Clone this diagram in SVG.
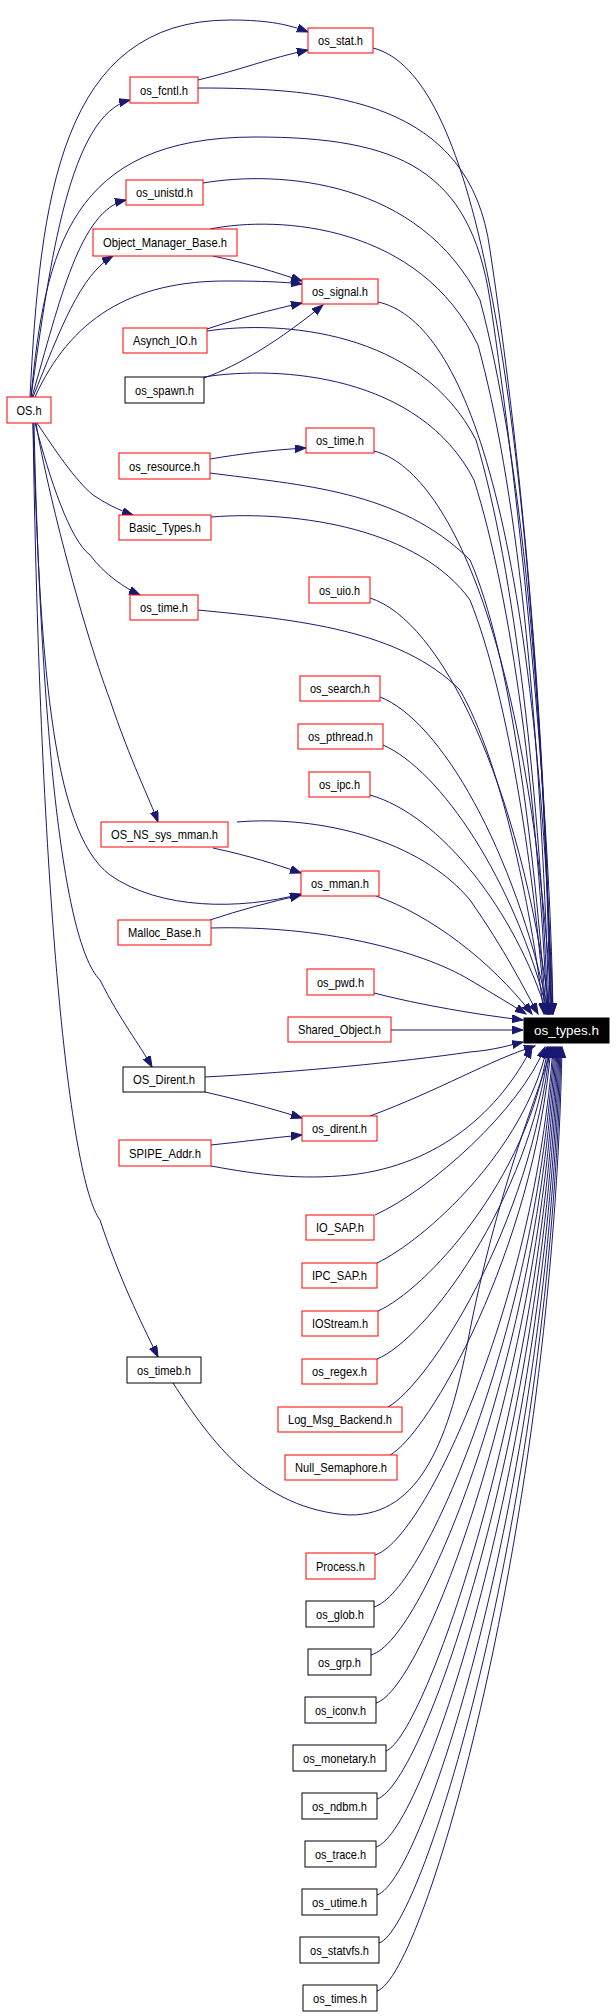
<svg xmlns="http://www.w3.org/2000/svg" width="616" height="2016" viewBox="0 0 616 2016">
<style>
.n rect{fill:#fff;stroke:#f00;stroke-width:1}
.n.b rect{stroke:#000}
.n text{font-family:"Liberation Sans",Arial,sans-serif;font-size:13px;text-anchor:middle;fill:#000}
.n.t rect{fill:#000;stroke:#000}
.n.t text{fill:#fff}
#edges path{fill:none;stroke:#191970;stroke-width:1;marker-end:url(#a)}
</style>
<defs><marker id="a" markerUnits="userSpaceOnUse" markerWidth="12" markerHeight="10" refX="11" refY="4" orient="auto"><path d="M0,0 L11,4 L0,8 Z" fill="#191970" stroke="#191970"/></marker></defs>
<rect width="616" height="2016" fill="#fff"/>
<g id="edges">
<path d="M30,397 C40,200 60,20 230,20 C270,20 290,25 308,32"/>
<path d="M31,397 C50,260 70,115 130,100"/>
<path d="M32,397 C60,300 80,210 126,200"/>
<path d="M33,397 C60,330 80,275 113,256"/>
<path d="M35,397 C70,320 130,280 230,281 C260,281 285,282 302,284"/>
<path d="M31,397 C45,250 70,137 255,137 C400,137 470,170 490,300 C520,500 550,800 553,1014"/>
<path d="M37,423 C55,450 75,480 93,495 C105,503 118,510 133,515"/>
<path d="M35,423 C50,480 70,540 90,555 C105,575 125,588 140,595"/>
<path d="M36,423 C45,480 80,620 110,700 C130,760 150,800 158,822"/>
<path d="M33,423 C40,650 50,830 110,875 C160,910 240,910 301,894"/>
<path d="M34,423 C40,700 60,940 100,980 C120,1020 140,1045 152,1067"/>
<path d="M33,423 C40,900 70,1180 100,1220 C120,1280 140,1320 158,1357"/>
<path d="M198,80 C240,70 270,58 308,50"/>
<path d="M213,256 C250,264 275,272 302,281"/>
<path d="M207,329 C240,318 270,310 302,303"/>
<path d="M204,378 C240,365 280,340 323,305"/>
<path d="M210,459 C240,454 270,450 306,448"/>
<path d="M213,848 C250,856 275,864 301,873"/>
<path d="M210,920 C240,910 270,902 301,895"/>
<path d="M205,1092 C240,1100 270,1108 302,1118"/>
<path d="M211,1145 C240,1142 270,1138 302,1135"/>
<path d="M373,48 C460,70 530,300 552,1014"/>
<path d="M198,88 C330,88 470,100 490,250 C520,450 545,700 551,1014"/>
<path d="M203,183 C280,170 420,180 480,300 C520,450 545,700 550,1014"/>
<path d="M210,229 C280,215 420,225 478,345 C515,480 540,700 549,1014"/>
<path d="M378,302 C460,320 535,500 553,1014"/>
<path d="M207,331 C280,320 420,330 476,440 C515,570 540,800 548,1014"/>
<path d="M204,377 C280,365 420,375 474,480 C512,600 538,800 547,1014"/>
<path d="M374,451 C450,470 530,650 552,1014"/>
<path d="M210,473 C300,485 400,490 470,560 C510,650 535,850 546,1014"/>
<path d="M211,517 C300,510 420,530 470,600 C510,700 535,880 545,1014"/>
<path d="M370,598 C440,620 520,780 550,1014"/>
<path d="M198,610 C300,620 400,630 460,690 C500,760 530,900 544,1014"/>
<path d="M380,697 C440,720 515,850 549,1014"/>
<path d="M383,745 C440,770 515,880 548,1014"/>
<path d="M370,795 C440,815 515,910 547,1014"/>
<path d="M237,822 C320,815 420,840 470,900 C505,950 525,990 538,1014"/>
<path d="M376,896 C430,915 490,960 532,1014"/>
<path d="M211,928 C320,925 420,950 470,980 C495,995 512,1005 526,1014"/>
<path d="M374,993 C420,1005 480,1015 523,1020"/>
<path d="M391,1030 L523,1030"/>
<path d="M205,1077 C300,1072 400,1062 470,1052 C495,1050 510,1045 523,1042"/>
<path d="M370,1116 C440,1090 490,1060 535,1046"/>
<path d="M211,1166 C260,1175 300,1180 350,1175 C440,1165 500,1110 532,1047"/>
<path d="M375,1215 C430,1190 520,1110 545,1047"/>
<path d="M377,1263 C425,1240 525,1150 547,1047"/>
<path d="M378,1311 C425,1290 528,1180 548,1047"/>
<path d="M377,1359 C425,1340 530,1200 549,1047"/>
<path d="M388,1407 C428,1385 532,1225 550,1047"/>
<path d="M390,1455 C428,1435 534,1250 551,1047"/>
<path d="M173,1383 C210,1440 260,1510 350,1515 C420,1515 450,1440 470,1330 C500,1180 540,1090 552,1047"/>
<path d="M375,1555 C425,1540 535,1300 553,1047"/>
<path d="M374,1607 C425,1592 537,1325 554,1047"/>
<path d="M371,1655 C425,1640 539,1350 555,1047"/>
<path d="M376,1703 C425,1688 541,1375 556,1047"/>
<path d="M386,1751 C425,1736 543,1400 557,1047"/>
<path d="M377,1799 C425,1784 545,1425 558,1047"/>
<path d="M376,1847 C425,1832 547,1450 559,1047"/>
<path d="M377,1895 C425,1880 549,1475 560,1047"/>
<path d="M379,1943 C425,1928 551,1500 561,1047"/>
<path d="M377,1991 C425,1976 553,1525 562,1047"/>
</g>
<g id="os_stat" class="n"><rect x="308" y="28" width="65" height="25"/><text x="340.5" y="45" textLength="45" lengthAdjust="spacingAndGlyphs">os_stat.h</text></g>
<g id="os_fcntl" class="n"><rect x="130" y="77" width="68" height="26"/><text x="164" y="94.5" textLength="48" lengthAdjust="spacingAndGlyphs">os_fcntl.h</text></g>
<g id="os_unistd" class="n"><rect x="126" y="180" width="77" height="25"/><text x="164.5" y="197" textLength="57" lengthAdjust="spacingAndGlyphs">os_unistd.h</text></g>
<g id="Object_Manager_Base" class="n"><rect x="93" y="229" width="144" height="27"/><text x="165" y="247" textLength="124" lengthAdjust="spacingAndGlyphs">Object_Manager_Base.h</text></g>
<g id="os_signal" class="n"><rect x="302" y="279" width="76" height="25"/><text x="340" y="296" textLength="56" lengthAdjust="spacingAndGlyphs">os_signal.h</text></g>
<g id="Asynch_IO" class="n"><rect x="123" y="328" width="84" height="25"/><text x="165" y="345" textLength="64" lengthAdjust="spacingAndGlyphs">Asynch_IO.h</text></g>
<g id="os_spawn" class="n b"><rect x="125" y="377" width="79" height="26"/><text x="164.5" y="394.5" textLength="59" lengthAdjust="spacingAndGlyphs">os_spawn.h</text></g>
<g id="OS" class="n"><rect x="7" y="397" width="44" height="26"/><text x="29" y="414.5" textLength="25" lengthAdjust="spacingAndGlyphs">OS.h</text></g>
<g id="os_time_a" class="n"><rect x="306" y="428" width="68" height="25"/><text x="340" y="445" textLength="48" lengthAdjust="spacingAndGlyphs">os_time.h</text></g>
<g id="os_resource" class="n"><rect x="119" y="453" width="91" height="26"/><text x="164.5" y="470.5" textLength="71" lengthAdjust="spacingAndGlyphs">os_resource.h</text></g>
<g id="Basic_Types" class="n"><rect x="119" y="515" width="92" height="25"/><text x="165" y="532" textLength="72" lengthAdjust="spacingAndGlyphs">Basic_Types.h</text></g>
<g id="os_uio" class="n"><rect x="309" y="577" width="61" height="26"/><text x="339.5" y="594.5" textLength="41" lengthAdjust="spacingAndGlyphs">os_uio.h</text></g>
<g id="os_time_b" class="n"><rect x="130" y="595" width="68" height="25"/><text x="164" y="612" textLength="48" lengthAdjust="spacingAndGlyphs">os_time.h</text></g>
<g id="os_search" class="n"><rect x="300" y="676" width="80" height="25"/><text x="340" y="693" textLength="60" lengthAdjust="spacingAndGlyphs">os_search.h</text></g>
<g id="os_pthread" class="n"><rect x="298" y="724" width="85" height="25"/><text x="340.5" y="741" textLength="65" lengthAdjust="spacingAndGlyphs">os_pthread.h</text></g>
<g id="os_ipc" class="n"><rect x="309" y="772" width="61" height="25"/><text x="339.5" y="789" textLength="41" lengthAdjust="spacingAndGlyphs">os_ipc.h</text></g>
<g id="OS_NS_sys_mman" class="n"><rect x="101" y="822" width="127" height="25"/><text x="164.5" y="839" textLength="107" lengthAdjust="spacingAndGlyphs">OS_NS_sys_mman.h</text></g>
<g id="os_mman" class="n"><rect x="301" y="871" width="78" height="25"/><text x="340" y="888" textLength="58" lengthAdjust="spacingAndGlyphs">os_mman.h</text></g>
<g id="Malloc_Base" class="n"><rect x="118" y="920" width="93" height="25"/><text x="164.5" y="937" textLength="73" lengthAdjust="spacingAndGlyphs">Malloc_Base.h</text></g>
<g id="os_pwd" class="n"><rect x="307" y="969" width="67" height="26"/><text x="340.5" y="986.5" textLength="47" lengthAdjust="spacingAndGlyphs">os_pwd.h</text></g>
<g id="Shared_Object" class="n"><rect x="288" y="1017" width="103" height="25"/><text x="339.5" y="1034" textLength="83" lengthAdjust="spacingAndGlyphs">Shared_Object.h</text></g>
<g id="os_types" class="n t"><rect x="524" y="1018" width="85" height="25"/><text x="566.5" y="1035" textLength="65" lengthAdjust="spacingAndGlyphs">os_types.h</text></g>
<g id="OS_Dirent" class="n b"><rect x="123" y="1067" width="82" height="25"/><text x="164" y="1084" textLength="62" lengthAdjust="spacingAndGlyphs">OS_Dirent.h</text></g>
<g id="os_dirent" class="n"><rect x="302" y="1116" width="75" height="25"/><text x="339.5" y="1133" textLength="55" lengthAdjust="spacingAndGlyphs">os_dirent.h</text></g>
<g id="SPIPE_Addr" class="n"><rect x="119" y="1140" width="92" height="26"/><text x="165" y="1157.5" textLength="72" lengthAdjust="spacingAndGlyphs">SPIPE_Addr.h</text></g>
<g id="IO_SAP" class="n"><rect x="306" y="1215" width="68" height="25"/><text x="340" y="1232" textLength="48" lengthAdjust="spacingAndGlyphs">IO_SAP.h</text></g>
<g id="IPC_SAP" class="n"><rect x="302" y="1263" width="75" height="25"/><text x="339.5" y="1280" textLength="55" lengthAdjust="spacingAndGlyphs">IPC_SAP.h</text></g>
<g id="IOStream" class="n"><rect x="302" y="1311" width="76" height="25"/><text x="340" y="1328" textLength="56" lengthAdjust="spacingAndGlyphs">IOStream.h</text></g>
<g id="os_regex" class="n"><rect x="302" y="1359" width="75" height="25"/><text x="339.5" y="1376" textLength="55" lengthAdjust="spacingAndGlyphs">os_regex.h</text></g>
<g id="os_timeb" class="n b"><rect x="127" y="1357" width="74" height="26"/><text x="164" y="1374.5" textLength="54" lengthAdjust="spacingAndGlyphs">os_timeb.h</text></g>
<g id="Log_Msg_Backend" class="n"><rect x="278" y="1407" width="124" height="25"/><text x="340" y="1424" textLength="104" lengthAdjust="spacingAndGlyphs">Log_Msg_Backend.h</text></g>
<g id="Null_Semaphore" class="n"><rect x="285" y="1455" width="112" height="25"/><text x="341" y="1472" textLength="92" lengthAdjust="spacingAndGlyphs">Null_Semaphore.h</text></g>
<g id="Process" class="n"><rect x="306" y="1553" width="69" height="26"/><text x="340.5" y="1570.5" textLength="49" lengthAdjust="spacingAndGlyphs">Process.h</text></g>
<g id="os_glob" class="n b"><rect x="306" y="1601" width="68" height="26"/><text x="340" y="1618.5" textLength="48" lengthAdjust="spacingAndGlyphs">os_glob.h</text></g>
<g id="os_grp" class="n b"><rect x="308" y="1649" width="63" height="26"/><text x="339.5" y="1666.5" textLength="43" lengthAdjust="spacingAndGlyphs">os_grp.h</text></g>
<g id="os_iconv" class="n b"><rect x="305" y="1697" width="71" height="26"/><text x="340.5" y="1714.5" textLength="51" lengthAdjust="spacingAndGlyphs">os_iconv.h</text></g>
<g id="os_monetary" class="n b"><rect x="293" y="1745" width="93" height="26"/><text x="339.5" y="1762.5" textLength="73" lengthAdjust="spacingAndGlyphs">os_monetary.h</text></g>
<g id="os_ndbm" class="n b"><rect x="302" y="1793" width="75" height="26"/><text x="339.5" y="1810.5" textLength="55" lengthAdjust="spacingAndGlyphs">os_ndbm.h</text></g>
<g id="os_trace" class="n b"><rect x="305" y="1841" width="71" height="26"/><text x="340.5" y="1858.5" textLength="51" lengthAdjust="spacingAndGlyphs">os_trace.h</text></g>
<g id="os_utime" class="n b"><rect x="302" y="1889" width="75" height="26"/><text x="339.5" y="1906.5" textLength="55" lengthAdjust="spacingAndGlyphs">os_utime.h</text></g>
<g id="os_statvfs" class="n b"><rect x="300" y="1937" width="79" height="26"/><text x="339.5" y="1954.5" textLength="59" lengthAdjust="spacingAndGlyphs">os_statvfs.h</text></g>
<g id="os_times" class="n b"><rect x="303" y="1985" width="74" height="26"/><text x="340" y="2002.5" textLength="54" lengthAdjust="spacingAndGlyphs">os_times.h</text></g>
</svg>
